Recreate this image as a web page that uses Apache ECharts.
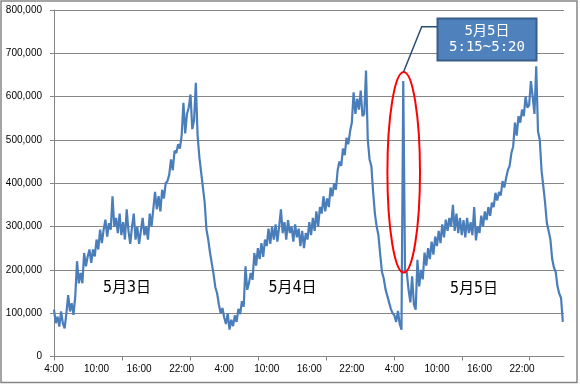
<!DOCTYPE html>
<html><head><meta charset="utf-8">
<script src="https://cdn.jsdelivr.net/npm/echarts@6/dist/echarts.min.js"></script>
<style>html,body{margin:0;padding:0;background:#fff}#c{width:580px;height:384px}</style>
</head><body><div id="c"></div>
<script>
// Time labels shown on the x axis (every 6 hours starting 4:00 on 5月3日)
const timeLabels = ['4:00','10:00','16:00','22:00','4:00','10:00','16:00','22:00','4:00','10:00','16:00','22:00'];
const dayLabels = ['5月3日','5月4日','5月5日'];
const calloutLines = ['5月5日','5:15~5:20'];
// 15-minute samples (values in thousands), each day from 4:00 to 3:45
const may3 = [
  108, 77, 92, 69, 104, 77, 65, 100,
  142, 104, 123, 96, 139, 220, 169, 193,
  169, 239, 208, 231, 247, 216, 247, 231,
  270, 247, 293, 262, 293, 316, 277, 308,
  293, 370, 300, 320, 285, 330, 280, 310,
  270, 340, 290, 260, 300, 330, 270, 300,
  260, 290, 320, 280, 300, 270, 330, 300,
  340, 380, 340, 370, 335, 385, 365, 400,
  405, 420, 455, 430, 475, 470, 490, 480,
  510, 586, 515, 560, 575, 605, 525, 545,
  632, 510, 460, 425, 390, 355, 293, 270,
  240, 215, 190, 160, 146, 120, 100, 112
];
const may4 = [
  90, 75, 100, 62, 85, 70, 95, 80,
  110, 98, 128, 115, 208, 154, 170, 193,
  177, 239, 210, 250, 225, 262, 230, 270,
  255, 295, 260, 300, 270, 305, 265, 300,
  340, 285, 310, 270, 315, 285, 300, 265,
  305, 275, 295, 255, 290, 250, 285, 270,
  310, 280, 320, 290, 335, 300, 345, 330,
  370, 335, 365, 345, 390, 370, 400, 385,
  430, 450, 440, 480, 465, 505, 490, 520,
  540, 610, 560, 595, 570, 614, 555, 560,
  660, 500, 455, 440, 380, 330, 300, 280,
  235, 195, 180, 155, 140, 125, 110, 100
];
const may5 = [
  95, 80, 105, 75, 62, 636, 200, 193,
  154, 125, 185, 120, 108, 223, 162, 200,
  178, 240, 210, 250, 225, 265, 235, 277,
  255, 290, 262, 305, 275, 316, 290, 320,
  300, 350, 290, 330, 285, 320, 280, 315,
  275, 320, 285, 310, 280, 345, 268, 300,
  285, 325, 300, 335, 315, 345, 325, 355,
  345, 378, 360, 380, 372, 405, 390, 412,
  430, 440, 470, 485, 540, 510, 555, 540,
  570, 555, 600, 575, 580, 636, 600, 560,
  670, 520, 500, 430, 393, 355, 308, 290,
  270, 225, 205, 195, 162, 145, 135, 80
];
const stepHours = 0.25;
const values = may3.concat(may4, may5);
const seriesData = values.map((v, i) => [i * stepHours, v]);
const axisMaxHours = 863 / 12;          // 3 days of 5-minute slots
const tickSlots = Array.from({length: 864}, (_, i) => String(i));

const chart = echarts.init(document.getElementById('c'), null, {renderer: 'canvas'});
const grey = '#868686';
const txtFont = '"Liberation Sans", Arial, sans-serif';
const jpFont = '"DejaVu Sans Mono", "Noto Sans CJK JP", sans-serif';

chart.setOption({
  animation: false,
  backgroundColor: '#fff',
  grid: {left: 54, right: 16, top: 10, bottom: 27.5, containLabel: false, outerBoundsMode: 'none'},
  xAxis: [{
    type: 'value', min: 0, max: axisMaxHours, interval: 6,
    axisLine: {show: true, lineStyle: {color: grey, width: 1}},
    axisTick: {show: false},
    splitLine: {show: false},
    axisLabel: {
      color: '#000', fontSize: 10, fontFamily: txtFont, margin: 8,
      showMaxLabel: false,
      formatter: v => { const k = Math.round(v / 6); return Math.abs(v - k * 6) < 1e-6 && k < timeLabels.length ? timeLabels[k] : ''; }
    }
  }, {
    type: 'category', data: tickSlots, boundaryGap: false, position: 'bottom',
    axisLine: {show: false},
    axisLabel: {show: false},
    splitLine: {show: false},
    axisTick: {show: true, interval: 114, length: 4, lineStyle: {color: grey, width: 1}}
  }],
  yAxis: {
    type: 'value', min: 0, max: 800, interval: 100,
    axisLine: {show: true, lineStyle: {color: grey, width: 1}},
    axisTick: {show: true, length: 4, lineStyle: {color: grey}},
    splitLine: {show: true, lineStyle: {color: grey, width: 1}},
    axisLabel: {
      color: '#000', fontSize: 10, fontFamily: txtFont, margin: 12,
      formatter: v => (v * 1000).toLocaleString('en-US')
    }
  },
  series: [{
    type: 'line', xAxisIndex: 0, yAxisIndex: 0, data: seriesData,
    showSymbol: false, symbol: 'none',
    lineStyle: {color: '#4a7ebb', width: 2.2},
    z: 3
  }],
  graphic: [
    {type: 'rect', shape: {x: 1, y: 1, width: 576, height: 381.5}, style: {fill: 'none', stroke: grey, lineWidth: 1.5}, z: 100, silent: true},
    {type: 'text', x: 127, y: 288, style: {text: dayLabels[0], fill: '#000', font: '15px ' + jpFont, textAlign: 'center', textVerticalAlign: 'middle'}, z: 100},
    {type: 'text', x: 292.5, y: 288, style: {text: dayLabels[1], fill: '#000', font: '15px ' + jpFont, textAlign: 'center', textVerticalAlign: 'middle'}, z: 100},
    {type: 'text', x: 474, y: 289, style: {text: dayLabels[2], fill: '#000', font: '15px ' + jpFont, textAlign: 'center', textVerticalAlign: 'middle'}, z: 100},
    {type: 'ellipse', shape: {cx: 403.7, cy: 172.3, rx: 16.3, ry: 100.3}, style: {fill: 'none', stroke: '#ff0000', lineWidth: 2}, z: 100},
    {type: 'polyline', shape: {points: [[437, 26.7], [421.7, 26.7], [403.5, 72]]}, style: {fill: 'none', stroke: '#2c4d75', lineWidth: 1.5}, z: 100},
    {type: 'rect', shape: {x: 437.5, y: 18.5, width: 99, height: 42}, style: {fill: '#4f81bd', stroke: '#385d8a', lineWidth: 2}, z: 101},
    {type: 'text', x: 487, y: 31, style: {text: calloutLines[0], fill: '#fff', font: '14px ' + jpFont, textAlign: 'center', textVerticalAlign: 'middle'}, z: 102},
    {type: 'text', x: 487, y: 47.5, style: {text: calloutLines[1], fill: '#fff', font: '14px ' + jpFont, textAlign: 'center', textVerticalAlign: 'middle'}, z: 102}
  ]
});
</script></body></html>
